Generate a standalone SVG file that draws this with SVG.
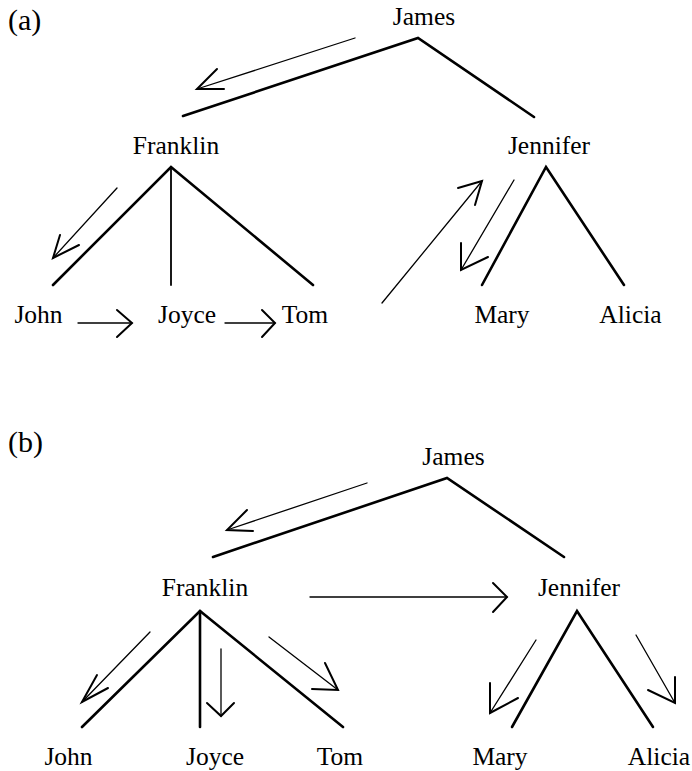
<svg xmlns="http://www.w3.org/2000/svg" width="692" height="771" viewBox="0 0 692 771">
  <style>
    text { font-family: "Liberation Serif", "Times New Roman", serif; font-size: 25.5px; fill: #000; text-anchor: middle; }
    .panel { font-size: 30px; text-anchor: start; }
    .edge { fill: none; stroke: #000; stroke-width: 2.6; stroke-linecap: round; stroke-linejoin: miter; }
    .thin { stroke-width: 1.8; }
    .shaft { fill: none; stroke: #000; stroke-width: 1.3; stroke-linecap: round; }
    .head { fill: none; stroke: #000; stroke-width: 2; stroke-linecap: round; stroke-linejoin: miter; }
  </style>
  <rect width="692" height="771" fill="#fff"/>

  <!-- (a) traversal order: depth first -->
  <text class="panel" x="8" y="30">(a)</text>
  <g id="edges-a">
    <polyline class="edge" points="183,116 418,38 534,117"/>
    <polyline class="edge" points="53,285 171,167 313,285"/>
    <line class="edge thin" x1="171" y1="167" x2="171" y2="285"/>
    <polyline class="edge" points="482,285 546,167 624,285"/>
  </g>
  <g id="traversal-a">
    <line class="shaft" x1="355" y1="38" x2="197" y2="89"/>
    <polyline class="head" points="217,69 197,89 224,89"/>
    <line class="shaft" x1="117" y1="188" x2="53" y2="258"/>
    <polyline class="head" points="60,235 53,258 79,245"/>
    <line class="shaft" x1="78" y1="323" x2="132" y2="323"/>
    <polyline class="head" points="117,310 132,323 117,337"/>
    <line class="shaft" x1="225" y1="323" x2="275" y2="323"/>
    <polyline class="head" points="262,310 275,323 262,337"/>
    <line class="shaft" x1="382" y1="303" x2="482" y2="181"/>
    <polyline class="head" points="458,188 482,181 475,205"/>
    <line class="shaft" x1="514" y1="180" x2="461" y2="270"/>
    <polyline class="head" points="461,243 461,270 488,257"/>
  </g>
  <g id="a-james"><text x="424" y="25">James</text></g>
  <g id="a-franklin"><text x="176" y="154">Franklin</text></g>
  <g id="a-jennifer"><text x="549" y="154">Jennifer</text></g>
  <g id="a-john"><text x="38.5" y="323">John</text></g>
  <g id="a-joyce"><text x="187" y="323">Joyce</text></g>
  <g id="a-tom"><text x="305" y="323">Tom</text></g>
  <g id="a-mary"><text x="502" y="323">Mary</text></g>
  <g id="a-alicia"><text x="630.5" y="323">Alicia</text></g>

  <!-- (b) traversal order: breadth first -->
  <text class="panel" x="8" y="452">(b)</text>
  <g id="edges-b">
    <polyline class="edge" points="213,557 447,478 564,557"/>
    <polyline class="edge" points="82,727 200,611 343,727"/>
    <line class="edge" x1="200" y1="611" x2="200" y2="727"/>
    <polyline class="edge" points="512,727 577,611 653,727"/>
  </g>
  <g id="traversal-b">
    <line class="shaft" x1="367" y1="483" x2="227" y2="530"/>
    <polyline class="head" points="247,510 227,530 253,531"/>
    <line class="shaft" x1="310" y1="597" x2="507" y2="597"/>
    <polyline class="head" points="493,583 507,597 493,612"/>
    <line class="shaft" x1="150" y1="632" x2="82" y2="702"/>
    <polyline class="head" points="97,675 82,702 108,688"/>
    <line class="shaft" x1="221" y1="649" x2="221" y2="716"/>
    <polyline class="head" points="207,703 221,716 234,703"/>
    <line class="shaft" x1="269" y1="637" x2="338" y2="690"/>
    <polyline class="head" points="325,663 338,690 312,689"/>
    <line class="shaft" x1="536" y1="640" x2="490" y2="713"/>
    <polyline class="head" points="490,683 490,713 518,698"/>
    <line class="shaft" x1="636" y1="635" x2="675" y2="703"/>
    <polyline class="head" points="675,677 675,703 648,690"/>
  </g>
  <g id="b-james"><text x="453.5" y="465">James</text></g>
  <g id="b-franklin"><text x="205" y="596">Franklin</text></g>
  <g id="b-jennifer"><text x="579" y="596">Jennifer</text></g>
  <g id="b-john"><text x="68.5" y="765">John</text></g>
  <g id="b-joyce"><text x="215" y="765">Joyce</text></g>
  <g id="b-tom"><text x="340" y="765">Tom</text></g>
  <g id="b-mary"><text x="500" y="765">Mary</text></g>
  <g id="b-alicia"><text x="659" y="765">Alicia</text></g>
</svg>
